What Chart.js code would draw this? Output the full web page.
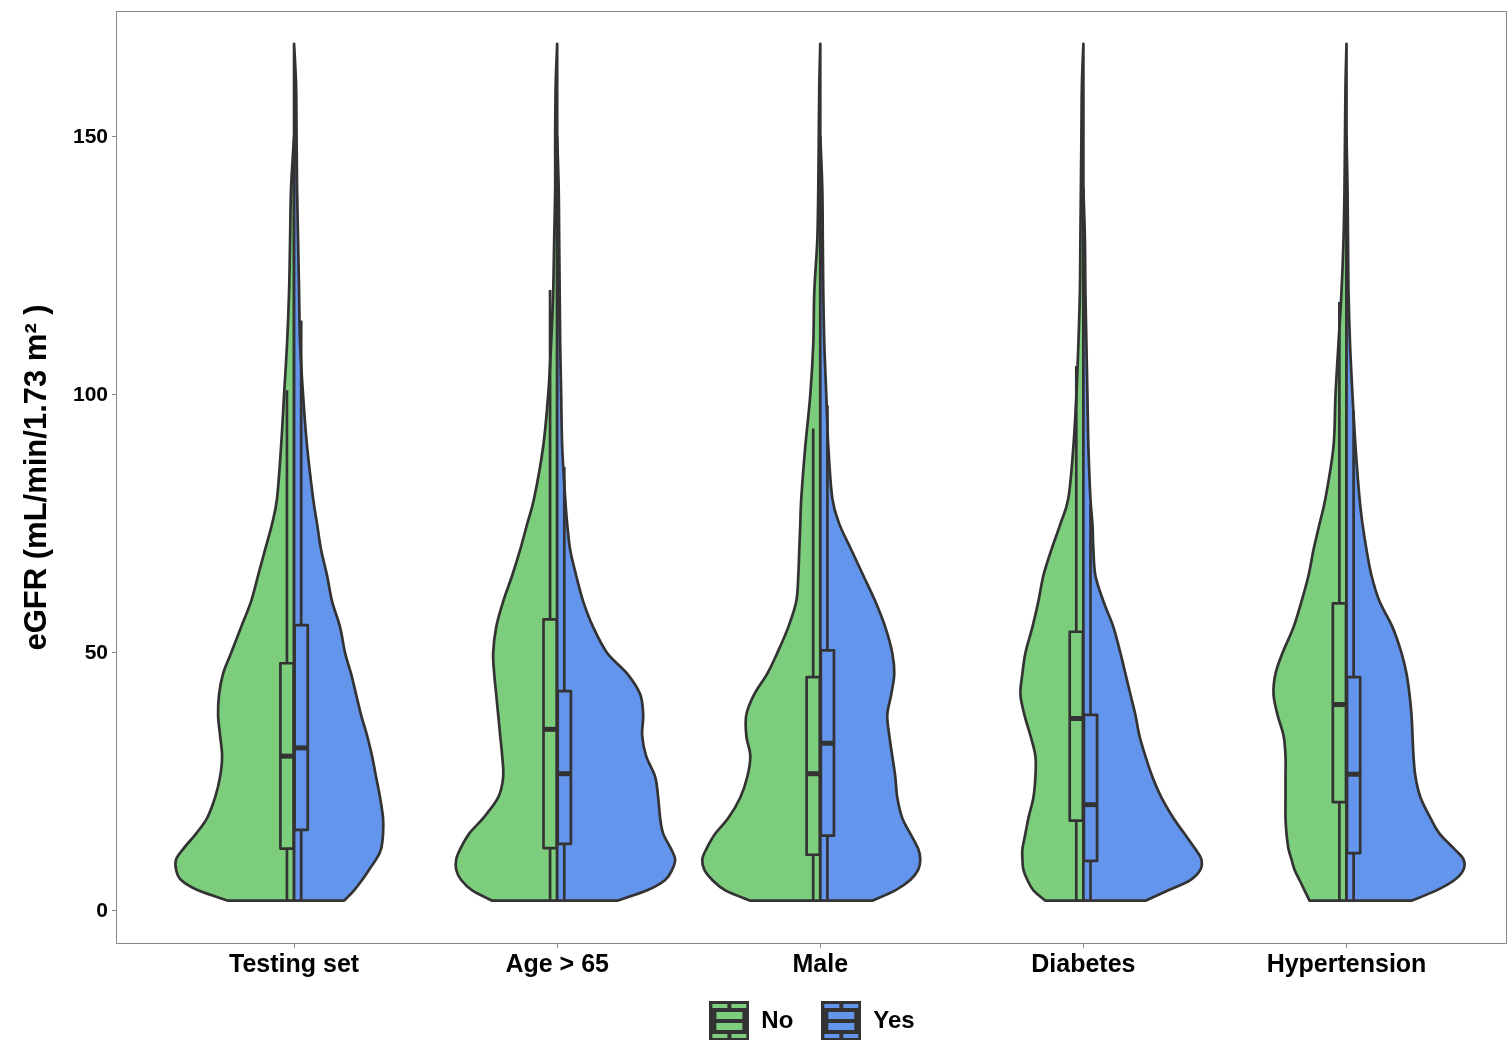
<!DOCTYPE html>
<html>
<head>
<meta charset="utf-8">
<script src="https://cdn.jsdelivr.net/npm/chart.js@4.4.0/dist/chart.umd.min.js"></script>
<style>
  html, body { margin: 0; padding: 0; background: #fff; overflow: hidden; }
  #wrap { width: 1507px; height: 1043px; }
</style>
</head>
<body>
<div id="wrap"><canvas id="violinChart"></canvas></div>
<script>
const categories = ['Testing set', 'Age > 65', 'Male', 'Diabetes', 'Hypertension'];
const groups = ['No', 'Yes'];
const yTicks = [0, 50, 100, 150];

// eGFR levels where the violin widths were read
const levels = [2, 4, 6, 8, 10, 12, 15, 18, 22, 26, 30, 34, 38, 42, 46, 50, 55, 60, 65, 70, 75, 80, 90, 100, 110, 120, 130, 140, 150, 160, 168];

// relative density at each level (null = above the violin's top)
const densityNo = [
    [66, 96, 113, 118, 118, 111, 98, 87, 79, 74, 72, 74, 76, 75, 71, 63, 53, 43, 36, 29, 22, 17, 13, 10, 7, 5, 4, 3, 0, null, null],
    [65, 85, 96, 101, 101, 97, 88, 74, 59, 54, 55, 57, 59, 61, 63, 64, 61, 54, 45, 37, 30, 23, 14, 9, 6, 4, 3, 2, 2, 1.5, 0],
    [70, 95, 108, 116, 118, 114, 105, 92, 80, 73, 70, 74, 74, 66, 53, 43, 32, 24, 22, 21, 20, 19, 15, 10, 7, 6, 3, 2, 1.5, 1, 0],
    [38, 50, 56, 60, 61, 61, 58, 55, 50, 48, 48, 53, 59, 63, 61, 58, 51, 45, 40, 32, 23, 15, 10, 7, 5, 3.5, 3, 2.5, 2, 1.5, 0],
    [37, 42, 47, 52, 55, 58, 60, 61, 61, 61, 61, 63, 69, 73, 71, 64, 53, 45, 38, 33, 27, 21, 13, 11, 8, 5, 3, 2, 1.5, 1, 0]
];
const densityYes = [
    [50, 60, 68, 75, 82, 87, 89, 89, 86, 82, 78, 73, 67, 62, 57, 51, 46, 38, 33, 27, 23, 19, 13, 9, 6, 5, 4, 3, 2.5, 2, 0],
    [60, 90, 108, 115, 118, 114, 106, 103, 101, 98, 89, 85, 86, 83, 70, 50, 36, 26, 19, 13, 10, 8, 5, 4, 3, 2.5, 2, 1.5, 0, null, null],
    [52, 75, 90, 98, 100, 98, 90, 82, 77, 75, 72, 69, 67, 71, 74, 72, 65, 55, 43, 31, 19, 12, 8, 6, 4, 3, 2.5, 2, 0, null, null],
    [62, 85, 107, 117, 118, 112, 101, 90, 78, 69, 62, 56, 52, 47, 42, 37, 30, 20, 12, 10, 9, 7, 5, 4, 3, 2, 1.5, 0, null, null, null],
    [65, 90, 108, 117, 117, 108, 93, 84, 74, 69, 67, 66, 65, 63, 60, 55, 46, 33, 25, 20, 16, 13, 9, 6, 3.5, 2, 1.5, 1, 0, null, null]
];

// box plot statistics
const lowNo = [2, 2, 2, 2, 2];
const q1No = [12.1, 12.2, 10.9, 17.5, 21.1];
const medianNo = [30.0, 35.2, 26.6, 37.3, 40.0];
const q3No = [48.0, 56.5, 45.3, 54.1, 59.6];
const highNo = [100.9, 120.3, 93.5, 105.6, 118];

const lowYes = [2, 2, 2, 2, 2];
const q1Yes = [15.7, 13.0, 14.6, 9.7, 11.2];
const medianYes = [31.6, 26.6, 32.5, 20.6, 26.5];
const q3Yes = [55.4, 42.6, 50.5, 38.0, 45.3];
const highYes = [114.4, 86, 98, 78.8, 96.8];

const groupColors = ['#7CCD7C', '#6495ED'];
const outline = '#333333';
const widthScale = 0.0038;   // x units per density unit
const boxOffset = 0.027;
const boxHalf = 0.025;
const font = 'Liberation Sans, Arial, sans-serif';

const stats = [
    { low: lowNo, q1: q1No, med: medianNo, q3: q3No, high: highNo },
    { low: lowYes, q1: q1Yes, med: medianYes, q3: q3Yes, high: highYes }
];

const drawHalf = function (ctx, xs, ys, cx, side, dens, color) {
    let pts = [];
    for (let j = 0; j < levels.length; j++) {
        if (dens[j] === null) break;
        pts.push({ x: xs.getPixelForValue(cx + side * dens[j] * widthScale), y: ys.getPixelForValue(levels[j]) });
    }
    const mid = xs.getPixelForValue(cx);
    ctx.beginPath();
    ctx.moveTo(mid, pts[0].y);
    ctx.lineTo(pts[0].x, pts[0].y);
    for (let i = 0; i < pts.length - 1; i++) {
        const p0 = pts[i - 1] || pts[i];
        const p1 = pts[i];
        const p2 = pts[i + 1];
        const p3 = pts[i + 2] || p2;
        ctx.bezierCurveTo(
            p1.x + (p2.x - p0.x) / 6, p1.y + (p2.y - p0.y) / 6,
            p2.x - (p3.x - p1.x) / 6, p2.y - (p3.y - p1.y) / 6,
            p2.x, p2.y);
    }
    ctx.lineTo(mid, pts[pts.length - 1].y);
    ctx.closePath();
    ctx.fillStyle = color;
    ctx.fill();
    ctx.stroke();
};

const drawBox = function (ctx, xs, ys, cx, side, s, i, color) {
    const wx = xs.getPixelForValue(cx + side * boxOffset);
    const xa = xs.getPixelForValue(cx + side * (boxOffset - boxHalf));
    const xb = xs.getPixelForValue(cx + side * (boxOffset + boxHalf));
    const left = Math.min(xa, xb), right = Math.max(xa, xb);
    ctx.lineCap = 'butt';
    ctx.beginPath();
    ctx.moveTo(wx, ys.getPixelForValue(s.low[i]));
    ctx.lineTo(wx, ys.getPixelForValue(s.high[i]));
    ctx.stroke();
    const top = ys.getPixelForValue(s.q3[i]);
    const bottom = ys.getPixelForValue(s.q1[i]);
    ctx.fillStyle = color;
    ctx.fillRect(left, top, right - left, bottom - top);
    ctx.strokeRect(left, top, right - left, bottom - top);
    const my = ys.getPixelForValue(s.med[i]);
    ctx.save();
    ctx.lineWidth = 5;
    ctx.beginPath();
    ctx.moveTo(left, my);
    ctx.lineTo(right, my);
    ctx.stroke();
    ctx.restore();
};

const violinPlugin = {
    id: 'splitViolins',
    beforeDatasetsDraw(chart) {
        const { ctx, scales } = chart;
        ctx.save();
        ctx.strokeStyle = outline;
        ctx.lineWidth = 2.7;
        ctx.lineJoin = 'round';
        categories.forEach((c, i) => {
            const cx = i + 1;
            drawHalf(ctx, scales.x, scales.y, cx, -1, densityNo[i], groupColors[0]);
            drawHalf(ctx, scales.x, scales.y, cx, 1, densityYes[i], groupColors[1]);
            drawBox(ctx, scales.x, scales.y, cx, -1, stats[0], i, groupColors[0]);
            drawBox(ctx, scales.x, scales.y, cx, 1, stats[1], i, groupColors[1]);
        });
        ctx.restore();
    },
    afterDraw(chart) {
        const { ctx, chartArea } = chart;
        ctx.save();
        ctx.strokeStyle = '#888888';
        ctx.lineWidth = 1;
        ctx.strokeRect(Math.round(chartArea.left) - 0.5, Math.round(chartArea.top) - 0.5,
            Math.round(chartArea.right - chartArea.left), Math.round(chartArea.bottom - chartArea.top) + 1);
        ctx.restore();
    }
};

const legendIcon = function (color) {
    const c = document.createElement('canvas');
    c.width = 40;
    c.height = 40;
    const g = c.getContext('2d');
    g.fillStyle = outline;
    g.fillRect(0, 0, 40, 40);
    g.fillStyle = color;
    g.fillRect(3, 3, 15, 4);
    g.fillRect(22, 3, 15, 4);
    g.fillRect(7, 11, 26, 7);
    g.fillRect(7, 22, 26, 7);
    g.fillRect(3, 33, 15, 4);
    g.fillRect(22, 33, 15, 4);
    return c;
};

const data = {
    datasets: groups.map((g, k) => ({
        label: g,
        data: [],
        backgroundColor: groupColors[k],
        borderColor: outline,
        pointStyle: legendIcon(groupColors[k])
    }))
};

const config = {
    type: 'scatter',
    data: data,
    options: {
        responsive: true,
        maintainAspectRatio: false,
        animation: false,
        layout: { padding: { top: 8, right: 0, bottom: 0, left: 0 } },
        plugins: {
            legend: {
                position: 'bottom',
                fullSize: false,
                labels: {
                    usePointStyle: true,
                    pointStyleWidth: 40,
                    padding: 28,
                    color: '#000',
                    font: { family: font, size: 24, weight: 'bold' }
                }
            },
            tooltip: { enabled: false }
        },
        scales: {
            x: {
                type: 'linear',
                min: 0.327,
                max: 5.61,
                afterBuildTicks: s => { s.ticks = categories.map((c, i) => ({ value: i + 1 })); },
                afterFit: s => { s.height = 38; },
                ticks: {
                    callback: v => categories[v - 1],
                    color: '#000',
                    padding: 2,
                    maxRotation: 0,
                    autoSkip: false,
                    font: { family: font, size: 25, weight: 'bold' }
                },
                grid: { drawOnChartArea: false, tickLength: 5, color: '#888888' },
                border: { display: false }
            },
            y: {
                min: -6.2,
                max: 174.2,
                afterBuildTicks: s => { s.ticks = yTicks.map(v => ({ value: v })); },
                afterFit: s => { s.width = 117; },
                ticks: {
                    color: '#000',
                    padding: 4,
                    font: { family: font, size: 21, weight: 'bold', lineHeight: 0.75 }
                },
                title: {
                    display: true,
                    text: 'eGFR (mL/min/1.73 m\u00B2 )',
                    color: '#000',
                    padding: { top: 19, bottom: 0 },
                    font: { family: font, size: 31, weight: 'bold' }
                },
                grid: { drawOnChartArea: false, tickLength: 5, color: '#888888' },
                border: { display: false }
            }
        }
    },
    plugins: [violinPlugin]
};

const violinChart = new Chart(document.getElementById('violinChart'), config);
</script>
</body>
</html>
